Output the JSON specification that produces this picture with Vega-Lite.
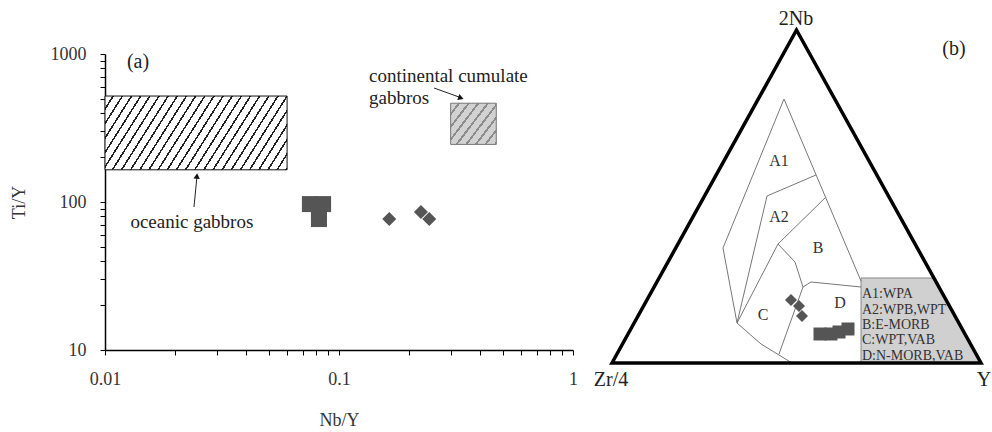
{
  "$schema": "https://vega.github.io/schema/vega-lite/v6.json",
  "background": "white",
  "padding": {"left": 10, "top": 9, "right": 5, "bottom": 5},
  "bounds": "flush",
  "spacing": 39,
  "config": {"view": {"stroke": null}, "font": "Liberation Serif"},
  "hconcat": [
    {
      "width": 468,
      "height": 296,
      "encoding": {
        "x": {"field": "x", "type": "quantitative",
          "scale": {"type": "log", "domain": [0.01, 1], "nice": false},
          "axis": {"title": "Nb/Y", "values": [0.01,0.02,0.03,0.04,0.05,0.06,0.07,0.08,0.09,0.1,0.2,0.3,0.4,0.5,0.6,0.7,0.8,0.9,1],
            "labelExpr": "datum.value == 0.01 ? '0.01' : (datum.value == 0.1 ? '0.1' : (datum.value == 1 ? '1' : ''))",
            "grid": false, "domainColor": "#000", "domainWidth": 1.5, "tickColor": "#000", "tickSize": 5, "tickWidth": 1,
            "labelFont": "Liberation Serif", "labelFontSize": 18, "labelColor": "#333", "labelPadding": 15, "labelFlush": false, "labelOverlap": false,
            "titleFont": "Liberation Serif", "titleFontSize": 18, "titleFontWeight": "normal", "titleColor": "#333", "titlePadding": 23}},
        "y": {"field": "y", "type": "quantitative",
          "scale": {"type": "log", "domain": [10, 1000], "nice": false},
          "axis": {"title": "Ti/Y", "values": [10,20,30,40,50,60,70,80,90,100,200,300,400,500,600,700,800,900,1000],
            "labelExpr": "datum.value == 10 ? '10' : (datum.value == 100 ? '100' : (datum.value == 1000 ? '1000' : ''))",
            "grid": false, "domainColor": "#000", "domainWidth": 1.5, "tickColor": "#000", "tickSize": 5, "tickWidth": 1,
            "labelFont": "Liberation Serif", "labelFontSize": 18, "labelColor": "#333", "labelPadding": 14, "labelFlush": false, "labelOverlap": false,
            "titleFont": "Liberation Serif", "titleFontSize": 18, "titleFontWeight": "normal", "titleColor": "#333", "titlePadding": 22}}
      },
      "layer": [
        {
          "data": {"values": [{"name": "oceanic gabbros", "x": 0.01, "x2": 0.06, "y": 165, "y2": 520}]},
          "mark": {"type": "rect", "stroke": "#111", "strokeWidth": 1,
            "fill": {"gradient": "linear", "x1": 0, "y1": 0, "x2": 1.179, "y2": 0.302, "stops": [
              {"offset": 0, "color": "#fff"}, {"offset": 0.032, "color": "#fff"}, {"offset": 0.032, "color": "#222"}, {"offset": 0.04, "color": "#222"},
              {"offset": 0.04, "color": "#fff"}, {"offset": 0.072, "color": "#fff"}, {"offset": 0.072, "color": "#222"}, {"offset": 0.08, "color": "#222"},
              {"offset": 0.08, "color": "#fff"}, {"offset": 0.112, "color": "#fff"}, {"offset": 0.112, "color": "#222"}, {"offset": 0.12, "color": "#222"},
              {"offset": 0.12, "color": "#fff"}, {"offset": 0.152, "color": "#fff"}, {"offset": 0.152, "color": "#222"}, {"offset": 0.16, "color": "#222"},
              {"offset": 0.16, "color": "#fff"}, {"offset": 0.192, "color": "#fff"}, {"offset": 0.192, "color": "#222"}, {"offset": 0.2, "color": "#222"},
              {"offset": 0.2, "color": "#fff"}, {"offset": 0.232, "color": "#fff"}, {"offset": 0.232, "color": "#222"}, {"offset": 0.24, "color": "#222"},
              {"offset": 0.24, "color": "#fff"}, {"offset": 0.272, "color": "#fff"}, {"offset": 0.272, "color": "#222"}, {"offset": 0.28, "color": "#222"},
              {"offset": 0.28, "color": "#fff"}, {"offset": 0.312, "color": "#fff"}, {"offset": 0.312, "color": "#222"}, {"offset": 0.32, "color": "#222"},
              {"offset": 0.32, "color": "#fff"}, {"offset": 0.352, "color": "#fff"}, {"offset": 0.352, "color": "#222"}, {"offset": 0.36, "color": "#222"},
              {"offset": 0.36, "color": "#fff"}, {"offset": 0.392, "color": "#fff"}, {"offset": 0.392, "color": "#222"}, {"offset": 0.4, "color": "#222"},
              {"offset": 0.4, "color": "#fff"}, {"offset": 0.432, "color": "#fff"}, {"offset": 0.432, "color": "#222"}, {"offset": 0.44, "color": "#222"},
              {"offset": 0.44, "color": "#fff"}, {"offset": 0.472, "color": "#fff"}, {"offset": 0.472, "color": "#222"}, {"offset": 0.48, "color": "#222"},
              {"offset": 0.48, "color": "#fff"}, {"offset": 0.512, "color": "#fff"}, {"offset": 0.512, "color": "#222"}, {"offset": 0.52, "color": "#222"},
              {"offset": 0.52, "color": "#fff"}, {"offset": 0.552, "color": "#fff"}, {"offset": 0.552, "color": "#222"}, {"offset": 0.56, "color": "#222"},
              {"offset": 0.56, "color": "#fff"}, {"offset": 0.592, "color": "#fff"}, {"offset": 0.592, "color": "#222"}, {"offset": 0.6, "color": "#222"},
              {"offset": 0.6, "color": "#fff"}, {"offset": 0.632, "color": "#fff"}, {"offset": 0.632, "color": "#222"}, {"offset": 0.64, "color": "#222"},
              {"offset": 0.64, "color": "#fff"}, {"offset": 0.672, "color": "#fff"}, {"offset": 0.672, "color": "#222"}, {"offset": 0.68, "color": "#222"},
              {"offset": 0.68, "color": "#fff"}, {"offset": 0.712, "color": "#fff"}, {"offset": 0.712, "color": "#222"}, {"offset": 0.72, "color": "#222"},
              {"offset": 0.72, "color": "#fff"}, {"offset": 0.752, "color": "#fff"}, {"offset": 0.752, "color": "#222"}, {"offset": 0.76, "color": "#222"},
              {"offset": 0.76, "color": "#fff"}, {"offset": 0.792, "color": "#fff"}, {"offset": 0.792, "color": "#222"}, {"offset": 0.8, "color": "#222"},
              {"offset": 0.8, "color": "#fff"}, {"offset": 0.832, "color": "#fff"}, {"offset": 0.832, "color": "#222"}, {"offset": 0.84, "color": "#222"},
              {"offset": 0.84, "color": "#fff"}, {"offset": 0.872, "color": "#fff"}, {"offset": 0.872, "color": "#222"}, {"offset": 0.88, "color": "#222"},
              {"offset": 0.88, "color": "#fff"}, {"offset": 0.912, "color": "#fff"}, {"offset": 0.912, "color": "#222"}, {"offset": 0.92, "color": "#222"},
              {"offset": 0.92, "color": "#fff"}, {"offset": 0.952, "color": "#fff"}, {"offset": 0.952, "color": "#222"}, {"offset": 0.96, "color": "#222"},
              {"offset": 0.96, "color": "#fff"}, {"offset": 0.992, "color": "#fff"}, {"offset": 0.992, "color": "#222"}, {"offset": 1, "color": "#222"}
            ]}},
          "encoding": {"x2": {"field": "x2"}, "y2": {"field": "y2"}}
        },
        {
          "data": {"values": [{"name": "continental cumulate gabbros", "x": 0.3, "x2": 0.47, "y": 245, "y2": 465}]},
          "mark": {"type": "rect", "stroke": "#777", "strokeWidth": 1,
            "fill": {"gradient": "linear", "x1": 0, "y1": 0, "x2": 1.146, "y2": 0.786, "stops": [
              {"offset": 0, "color": "#d2d2d2"}, {"offset": 0.094, "color": "#d2d2d2"}, {"offset": 0.094, "color": "#8c8c8c"}, {"offset": 0.125, "color": "#8c8c8c"},
              {"offset": 0.125, "color": "#d2d2d2"}, {"offset": 0.219, "color": "#d2d2d2"}, {"offset": 0.219, "color": "#8c8c8c"}, {"offset": 0.25, "color": "#8c8c8c"},
              {"offset": 0.25, "color": "#d2d2d2"}, {"offset": 0.344, "color": "#d2d2d2"}, {"offset": 0.344, "color": "#8c8c8c"}, {"offset": 0.375, "color": "#8c8c8c"},
              {"offset": 0.375, "color": "#d2d2d2"}, {"offset": 0.469, "color": "#d2d2d2"}, {"offset": 0.469, "color": "#8c8c8c"}, {"offset": 0.5, "color": "#8c8c8c"},
              {"offset": 0.5, "color": "#d2d2d2"}, {"offset": 0.594, "color": "#d2d2d2"}, {"offset": 0.594, "color": "#8c8c8c"}, {"offset": 0.625, "color": "#8c8c8c"},
              {"offset": 0.625, "color": "#d2d2d2"}, {"offset": 0.719, "color": "#d2d2d2"}, {"offset": 0.719, "color": "#8c8c8c"}, {"offset": 0.75, "color": "#8c8c8c"},
              {"offset": 0.75, "color": "#d2d2d2"}, {"offset": 0.844, "color": "#d2d2d2"}, {"offset": 0.844, "color": "#8c8c8c"}, {"offset": 0.875, "color": "#8c8c8c"},
              {"offset": 0.875, "color": "#d2d2d2"}, {"offset": 0.969, "color": "#d2d2d2"}, {"offset": 0.969, "color": "#8c8c8c"}, {"offset": 1, "color": "#8c8c8c"}
            ]}},
          "encoding": {"x2": {"field": "x2"}, "y2": {"field": "y2"}}
        },
        {
          "data": {"values": [
            {"x": 0.024, "y": 92.5, "x2": 0.0247, "y2": 147},
            {"x": 0.2548, "y": 589, "x2": 0.326, "y2": 512}
          ]},
          "mark": {"type": "rule", "color": "#222", "strokeWidth": 1},
          "encoding": {"x2": {"field": "x2"}, "y2": {"field": "y2"}}
        },
        {
          "data": {"values": [{"x": 0.0247, "y": 150}]},
          "mark": {"type": "point", "shape": "triangle-up", "filled": true, "size": 40, "color": "#111", "opacity": 1, "angle": 5},
          "encoding": {}
        },
        {
          "data": {"values": [{"x": 0.332, "y": 504.5}]},
          "mark": {"type": "point", "shape": "triangle-up", "filled": true, "size": 40, "color": "#111", "opacity": 1, "angle": 110},
          "encoding": {}
        },
        {
          "data": {"values": [
            {"x": 0.0751, "y": 96.8}, {"x": 0.0855, "y": 96.8}, {"x": 0.0821, "y": 85.5}, {"x": 0.0821, "y": 76.7}
          ]},
          "mark": {"type": "square", "size": 256, "color": "#555", "opacity": 1},
          "encoding": {}
        },
        {
          "data": {"values": [
            {"x": 0.164, "y": 76.7}, {"x": 0.224, "y": 85.5}, {"x": 0.243, "y": 76.7}
          ]},
          "mark": {"type": "point", "shape": "diamond", "filled": true, "size": 196, "color": "#555", "opacity": 1},
          "encoding": {}
        },
        {
          "data": {"values": [{"x": 0.01384, "y": 883, "t": "(a)"}]},
          "mark": {"type": "text", "fontSize": 20, "color": "#222", "font": "Liberation Serif", "align": "center", "baseline": "middle"},
          "encoding": {"text": {"field": "t"}}
        },
        {
          "data": {"values": [
            {"x": 0.0235, "y": 73.3, "t": "oceanic gabbros"}
          ]},
          "mark": {"type": "text", "fontSize": 19, "color": "#222", "font": "Liberation Serif", "align": "center", "baseline": "middle"},
          "encoding": {"text": {"field": "t"}}
        },
        {
          "data": {"values": [
            {"x": 0.1343, "y": 710, "t": "continental cumulate"},
            {"x": 0.1343, "y": 505, "t": "gabbros"}
          ]},
          "mark": {"type": "text", "fontSize": 19, "color": "#222", "font": "Liberation Serif", "align": "left", "baseline": "middle"},
          "encoding": {"text": {"field": "t"}}
        }
      ]
    },
    {
      "width": 369,
      "height": 309,
      "encoding": {
        "x": {"field": "bx", "type": "quantitative", "scale": {"domain": [0, 1], "nice": false, "zero": false}, "axis": null},
        "y": {"field": "by", "type": "quantitative", "scale": {"domain": [0, 0.92793], "nice": false, "zero": false}, "axis": null}
      },
      "layer": [
        {
          "data": {"values": [{"bx": 0.6748, "by": 0.2553}, {"bx": 0.8724, "by": 0.2553}, {"bx": 1, "by": 0}]},
          "mark": {"type": "area", "color": "#d0d0d0", "opacity": 1},
          "encoding": {"y2": {"datum": 0}}
        },
        {
          "data": {"values": [{"o": 1, "bx": 0.6748, "by": 0}, {"o": 2, "bx": 0.6748, "by": 0.2553}, {"o": 3, "bx": 0.8724, "by": 0.2553}]},
          "mark": {"type": "line", "color": "#888", "strokeWidth": 1},
          "encoding": {"order": {"field": "o"}}
        },
        {
          "data": {"values": [
            {"seg": "L1", "o": 1, "bx": 0.4661, "by": 0.7928},
            {"seg": "L1", "o": 2, "bx": 0.3008, "by": 0.3453},
            {"seg": "L1", "o": 3, "bx": 0.3388, "by": 0.1201},
            {"seg": "L2", "o": 1, "bx": 0.4661, "by": 0.7928},
            {"seg": "L2", "o": 2, "bx": 0.6748, "by": 0.2462},
            {"seg": "L3", "o": 1, "bx": 0.5528, "by": 0.5646},
            {"seg": "L3", "o": 2, "bx": 0.4201, "by": 0.5015},
            {"seg": "L3", "o": 3, "bx": 0.3388, "by": 0.1201},
            {"seg": "L4", "o": 1, "bx": 0.5799, "by": 0.4985},
            {"seg": "L4", "o": 2, "bx": 0.4499, "by": 0.3574},
            {"seg": "L5", "o": 1, "bx": 0.4499, "by": 0.3574},
            {"seg": "L5", "o": 2, "bx": 0.3388, "by": 0.1201},
            {"seg": "L6", "o": 1, "bx": 0.4499, "by": 0.3574},
            {"seg": "L6", "o": 2, "bx": 0.4959, "by": 0.3033},
            {"seg": "L6", "o": 3, "bx": 0.5176, "by": 0.2282},
            {"seg": "L7", "o": 1, "bx": 0.5176, "by": 0.2282},
            {"seg": "L7", "o": 2, "bx": 0.5393, "by": 0.2432},
            {"seg": "L7", "o": 3, "bx": 0.6748, "by": 0.2282},
            {"seg": "L8", "o": 1, "bx": 0.5176, "by": 0.2282},
            {"seg": "L8", "o": 2, "bx": 0.4526, "by": 0.027},
            {"seg": "L9", "o": 1, "bx": 0.3388, "by": 0.1201},
            {"seg": "L9", "o": 2, "bx": 0.4038, "by": 0.0571},
            {"seg": "L9", "o": 3, "bx": 0.4878, "by": 0}
          ]},
          "mark": {"type": "line", "color": "#777", "strokeWidth": 1},
          "encoding": {"detail": {"field": "seg"}, "order": {"field": "o"}}
        },
        {
          "data": {"values": [
            {"o": 1, "bx": 0, "by": 0}, {"o": 2, "bx": 1, "by": 0}, {"o": 3, "bx": 0.5, "by": 1},
            {"o": 4, "bx": 0, "by": 0}, {"o": 5, "bx": 1, "by": 0}
          ]},
          "mark": {"type": "line", "color": "#000", "strokeWidth": 3.5, "strokeJoin": "miter", "strokeMiterLimit": 10},
          "encoding": {"order": {"field": "o"}}
        },
        {
          "data": {"values": [
            {"bx": 0.5637, "by": 0.0871}, {"bx": 0.5935, "by": 0.0871}, {"bx": 0.6152, "by": 0.0931}, {"bx": 0.6396, "by": 0.1021}
          ]},
          "mark": {"type": "square", "size": 169, "color": "#555", "opacity": 1},
          "encoding": {}
        },
        {
          "data": {"values": [
            {"bx": 0.4851, "by": 0.1892}, {"bx": 0.5068, "by": 0.1712}, {"bx": 0.5149, "by": 0.1411}
          ]},
          "mark": {"type": "point", "shape": "diamond", "filled": true, "size": 144, "color": "#555", "opacity": 1},
          "encoding": {}
        },
        {
          "data": {"values": [
            {"bx": 0.4526, "by": 0.6066, "t": "A1"},
            {"bx": 0.4526, "by": 0.4384, "t": "A2"},
            {"bx": 0.5583, "by": 0.3453, "t": "B"},
            {"bx": 0.4092, "by": 0.1441, "t": "C"},
            {"bx": 0.6179, "by": 0.1802, "t": "D"}
          ]},
          "mark": {"type": "text", "fontSize": 16, "color": "#333", "font": "Liberation Serif", "align": "center", "baseline": "middle"},
          "encoding": {"text": {"field": "t"}}
        },
        {
          "data": {"values": [
            {"bx": 0.6775, "by": 0.2072, "t": "A1:WPA"},
            {"bx": 0.6775, "by": 0.1592, "t": "A2:WPB,WPT"},
            {"bx": 0.6775, "by": 0.1141, "t": "B:E-MORB"},
            {"bx": 0.6775, "by": 0.0691, "t": "C:WPT,VAB"},
            {"bx": 0.6775, "by": 0.021, "t": "D:N-MORB,VAB"}
          ]},
          "mark": {"type": "text", "fontSize": 14, "color": "#333", "font": "Liberation Serif", "align": "left", "baseline": "middle"},
          "encoding": {"text": {"field": "t"}}
        },
        {
          "data": {"values": [
            {"bx": 0.4986, "by": 1.033, "t": "2Nb"},
            {"bx": -0.0027, "by": -0.051, "t": "Zr/4"},
            {"bx": 1.008, "by": -0.051, "t": "Y"},
            {"bx": 0.9268, "by": 0.943, "t": "(b)"}
          ]},
          "mark": {"type": "text", "fontSize": 20, "color": "#222", "font": "Liberation Serif", "align": "center", "baseline": "middle"},
          "encoding": {"text": {"field": "t"}}
        }
      ]
    }
  ]
}
